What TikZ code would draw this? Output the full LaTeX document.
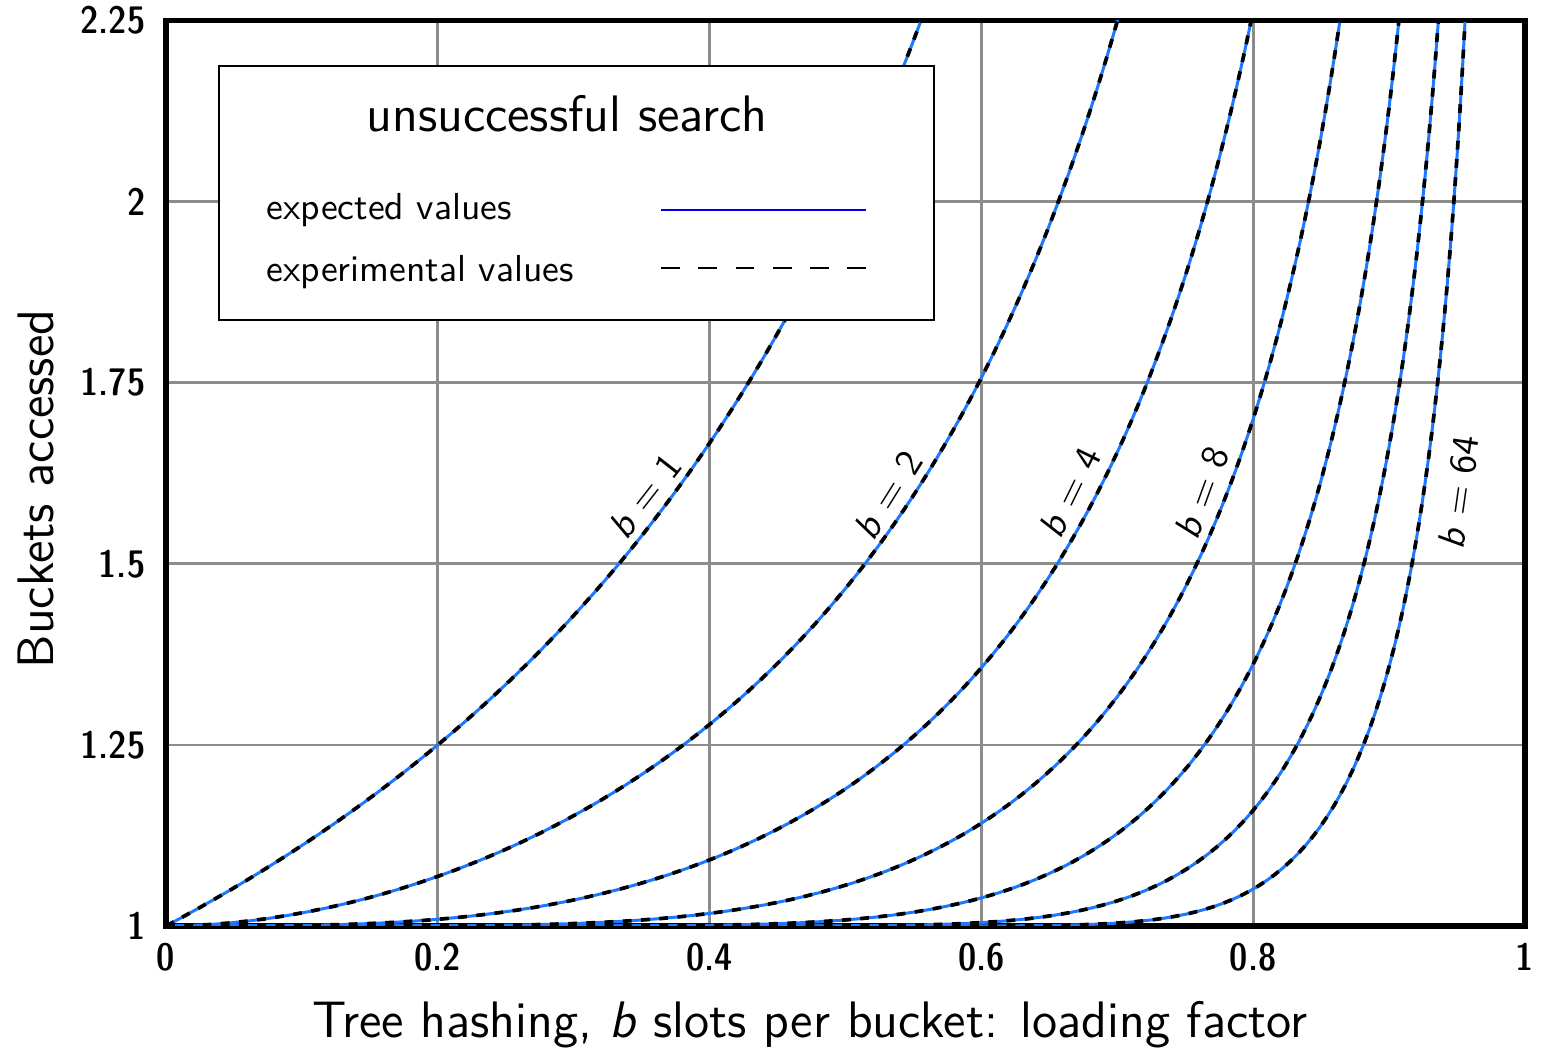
\documentclass[tikz,border=0pt]{standalone}
\usepackage{fontspec}
\newfontfamily\tickfont[Extension=.otf]{lmsansdemicond10-regular}
\definecolor{curveblue}{RGB}{30,120,255}
\definecolor{gridgray}{RGB}{140,140,140}
\definecolor{keyblue}{RGB}{0,0,235}

% Expected buckets accessed in an unsuccessful search, b slots per bucket.
% Bucket loads are Poisson(lambda) with lambda fixed by E[min(N,b)] = b*alpha;
% the search visits 1/P(N<=b-1) buckets. The curve is traced in lambda.
\ExplSyntaxOn
\fp_new:N \l__hb_lam_fp
\fp_new:N \l__hb_term_fp
\fp_new:N \l__hb_cdf_fp
\fp_new:N \l__hb_short_fp
\tl_new:N \g__hb_coords_tl
\cs_new_protected:Npn \hb_occupancy:nnn #1#2#3
  {
    \tl_gclear:N \g__hb_coords_tl
    \int_step_inline:nnn { 0 } { #2 }
      {
        \fp_set:Nn \l__hb_lam_fp { (#3) * (1 - (1 - ##1 / (#2))^2) }
        \fp_set:Nn \l__hb_term_fp { exp( - \l__hb_lam_fp ) }
        \fp_set_eq:NN \l__hb_cdf_fp \l__hb_term_fp
        \fp_set:Nn \l__hb_short_fp { (#1) * \l__hb_term_fp }
        \int_step_inline:nnn { 1 } { #1 - 1 }
          {
            \fp_set:Nn \l__hb_term_fp { \l__hb_term_fp * \l__hb_lam_fp / ####1 }
            \fp_add:Nn \l__hb_cdf_fp { \l__hb_term_fp }
            \fp_add:Nn \l__hb_short_fp { ((#1) - ####1) * \l__hb_term_fp }
          }
        \tl_gput_right:Nx \g__hb_coords_tl
          {
            ( \fp_eval:n { round(1 - \l__hb_short_fp / (#1), 5) } ,
              \fp_eval:n { round(1 / \l__hb_cdf_fp - 1, 5) } )
          }
      }
    \cs_gset_eq:NN \CurvePts \g__hb_coords_tl
  }
\NewDocumentCommand \BucketCurve { m m m }
  { \hb_occupancy:nnn {#1} {#2} {#3} }
\ExplSyntaxOff
\newcommand\DrawBucketCurve[1]{%
  \edef\hbdrawcmd{\noexpand\draw[#1] plot coordinates {\CurvePts};}\hbdrawcmd}

\tikzset{
  gridline/.style={draw=gridgray, line width=0.75pt},
  frameline/.style={draw=black, line width=1.6pt},
  theory/.style={draw=curveblue, line width=0.85pt, line join=round},
  measured/.style={draw=black, line width=1.05pt, dash pattern=on 2.5pt off 2.7pt, line join=round},
  ticklabel/.style={inner sep=0pt, font=\tickfont\fontsize{10.9}{13}\selectfont},
  axislabel/.style={inner sep=0pt, font=\sffamily\fontsize{14.6}{17}\selectfont},
  curvelabel/.style={inner sep=0pt, font=\sffamily\fontsize{10.8}{13}\selectfont},
  keytext/.style={inner sep=0pt, anchor=base west, font=\sffamily\fontsize{10.7}{13}\selectfont},
  keybox/.style={draw=black, fill=white, line width=0.65pt},
}

\begin{document}
\begin{tikzpicture}[x=1cm,y=1cm]
\fill[white] (0,0) rectangle (15.43,10.51);
\useasboundingbox (0,0) rectangle (15.43,10.51);

% plotting area: alpha in [0,1], buckets in [1,2.25]
\begin{scope}[shift={(1.66cm,1.25cm)}, x=13.59cm, y=7.244cm]
  \foreach \gx in {0.2,0.4,0.6,0.8}
    \draw[gridline] (\gx,0) -- (\gx,1.25);
  \foreach \gy in {0.25,0.5,0.75,1}
    \draw[gridline] (0,\gy) -- (1,\gy);
  \draw[frameline] (0,0) rectangle (1,1.25);
  \begin{scope}
    \clip (0,0) rectangle (1,1.25);
    \foreach \bb/\lm in {1/0.95, 2/2.3, 4/4.6, 8/9.2, 16/18, 32/34.5, 64/66.5} {
      \BucketCurve{\bb}{150}{\lm}
      \DrawBucketCurve{theory}
      \DrawBucketCurve{measured}
    }
  \end{scope}
\end{scope}

% tick labels
\foreach \v/\t [count=\i] in {1.25/1, 3.061/1.25, 4.872/1.5, 6.683/1.75, 8.494/2, 10.305/2.25}
  \node[ticklabel, anchor=east] (ytick\i) at (1.46,\v) {\t};
\foreach \u/\t [count=\i] in {1.66/0, 4.378/0.2, 7.096/0.4, 9.814/0.6, 12.532/0.8, 15.25/1}
  \node[ticklabel, anchor=base] (xtick\i) at (\u,0.80) {\t};

% axis titles
\node[axislabel, anchor=base] (xtitle) at (8.10,0.13)
  {Tree hashing, \textsl{b} slots per bucket: loading factor};
\node[axislabel, anchor=base, rotate=90] (ytitle) at (0.53,5.62) {Buckets accessed};

% curve labels
\node[curvelabel, rotate=52] (lab1) at (6.45,5.55) {\textsl{b} = 1};
\node[curvelabel, rotate=58] (lab2) at (8.88,5.56) {\textsl{b} = 2};
\node[curvelabel, rotate=64] (lab4) at (10.70,5.59) {\textsl{b} = 4};
\node[curvelabel, rotate=70] (lab8) at (12.02,5.58) {\textsl{b} = 8};
\node[curvelabel, rotate=82] (lab64) at (14.59,5.59) {\textsl{b} = 64};

% key
\draw[keybox] (2.19,7.31) rectangle (9.34,9.85);
\node[inner sep=0pt, anchor=base, font=\sffamily\fontsize{14.6}{17}\selectfont] (keytitle) at (5.67,9.19) {unsuccessful search};
\node[keytext] (keyexp) at (2.66,8.31) {expected values};
\node[keytext] (keymeas) at (2.66,7.69) {experimental values};
\coordinate (solidA) at (6.61,8.41);
\coordinate (solidB) at (8.66,8.41);
\coordinate (dashA) at (6.61,7.83);
\coordinate (dashB) at (8.66,7.83);
\draw[draw=keyblue, line width=0.7pt] (solidA) -- (solidB);
\draw[draw=black, line width=0.75pt, dash pattern=on 5.4pt off 5.2pt] (dashA) -- (dashB);
\end{tikzpicture}
\end{document}
